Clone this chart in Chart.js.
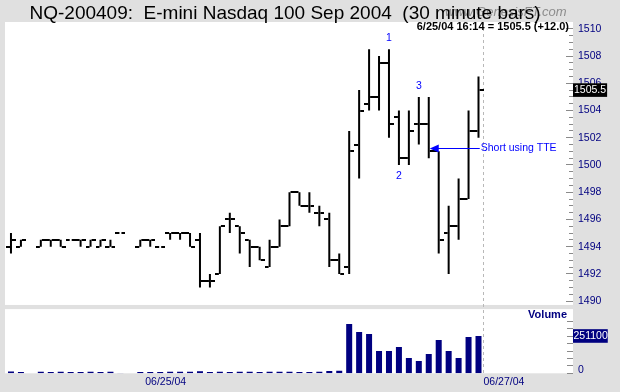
<!DOCTYPE html>
<html>
<head>
<meta charset="utf-8">
<script src="https://cdn.jsdelivr.net/npm/chart.js@4.4.1/dist/chart.umd.min.js"></script>
<style>
  html, body { margin: 0; padding: 0; background: #e0e0e0; }
  canvas { display: block; }
</style>
</head>
<body>
<canvas id="c" width="620" height="392"></canvas>
<script>
// ---------------- data ----------------
const categories = ['16:30','17:00','17:30','18:00','18:30','19:00','19:30','20:00','20:30','21:00',
  '21:30','22:00','22:30','23:00','23:30','00:00','00:30','01:00','01:30','02:00',
  '02:30','03:00','03:30','04:00','04:30','05:00','05:30','06:00','06:30','07:00',
  '07:30','08:00','08:30','09:00','09:30','10:00','10:30','11:00','11:30','12:00',
  '12:30','13:00','13:30','14:00','14:30','15:00','15:30','16:00','16:30','17:00',
  '17:30','18:00','18:30','19:00','19:30','20:00','20:30'];

const dateTicks = [{ index: 14, text: '06/25/04' }, { index: 48, text: '06/27/04' }];

const opens  = [1494.0,1494.0,null,1494.0,1494.5,1494.5,1494.5,1494.5,1494.0,1494.0,
                1494.0,1495.0,null,1494.0,1494.5,1494.0,1495.0,1495.0,1495.0,1494.5,
                1491.5,1492.0,1496.0,1495.5,1494.5,1494.0,1492.5,1494.0,1495.5,1498.0,
                1497.0,1496.5,1496.0,1493.0,1492.5,1501.5,1504.5,1505.0,1507.5,1503.5,
                1500.5,1503.0,1503.0,1501.0,1495.0,1495.5,1497.5,1502.5];
const highs  = [1495.0,1494.5,null,1494.5,1494.5,1494.5,1494.5,1494.5,1494.5,1494.5,
                1494.5,1495.0,null,1494.5,1494.5,1494.0,1495.0,1495.0,1495.0,1495.0,
                1492.0,1495.5,1496.5,1495.5,1494.5,1494.0,1494.5,1496.0,1498.0,1498.0,
                1498.0,1497.0,1496.5,1493.5,1502.5,1505.5,1508.5,1508.0,1508.5,1504.0,
                1504.0,1505.0,1505.0,1501.0,1497.0,1499.0,1504.0,1506.5];
const lows   = [1493.5,1494.0,null,1494.0,1494.0,1494.0,1494.5,1494.0,1494.0,1494.0,
                1494.0,1495.0,null,1494.0,1494.0,1494.0,1494.5,1494.5,1494.0,1491.0,
                1491.0,1492.0,1495.0,1493.5,1492.5,1493.0,1492.5,1494.0,1495.5,1497.0,
                1496.5,1495.5,1492.5,1492.0,1492.0,1499.0,1504.0,1504.0,1502.0,1500.0,
                1500.0,1501.5,1500.5,1493.5,1492.0,1494.5,1497.5,1502.0];
const closes = [1494.5,1494.5,null,1494.5,1494.5,1494.0,1494.5,1494.5,1494.5,1494.5,
                1494.0,1495.0,null,1494.5,1494.5,1494.0,1495.0,1495.0,1494.0,1491.5,
                1491.5,1495.5,1496.0,1495.0,1494.0,1493.0,1494.0,1495.5,1498.0,1497.0,
                1497.0,1496.5,1493.0,1492.0,1501.0,1504.0,1505.0,1507.5,1503.0,1500.5,
                1502.5,1503.0,1501.0,1494.5,1495.5,1497.5,1502.5,1505.5];
const volumes = [12000,9000,null,11000,9000,10000,8000,9000,10000,9000,
                 10000,2000,null,9000,9000,8000,10000,10000,10000,14000,
                 9000,10000,9000,10000,10000,9000,10000,10000,10000,9000,
                 8000,10000,15500,17000,332000,278000,264500,150500,150000,177500,
                 103000,83000,130000,224500,150000,103500,244500,251100];

const priceTicks  = [1490,1492,1494,1496,1498,1500,1502,1504,1506,1508,1510];
const volumeTicks = [0,50000,100000,150000,200000,250000,300000,350000];

const prevClose = 1493.5;
const lastStamp = '6/25/04 16:14';
const titleText = 'NQ-200409:  E-mini Nasdaq 100 Sep 2004  (30 minute bars)';
const watermark = 'www.GenesisFT.com';
const pointNotes = [
  { index: 38, text: '1', side: 'above' },
  { index: 39, text: '2', side: 'below' },
  { index: 41, text: '3', side: 'above' }
];
const arrowNote = { index: 42, price: 1501.25, text: 'Short using TTE' };

// ---------------- layout constants ----------------
const PRICE_MIN = 1484.7, PRICE_MAX = 1510.5;
const VOL_MAX = 2364000;
const PRICE_PANEL_FLOOR = 1489.72;   // where the price panel ends
const VOL_PANEL_CEIL = 432000;       // where the volume panel starts
const BG = '#e0e0e0';
const NAVY = '#000080';
const BLUE = '#0000ff';
const FONT = "'Liberation Sans', Arial, sans-serif";
Chart.defaults.font.family = FONT;

const lastIdx = closes.length - 1;
const lastClose = closes[lastIdx];
const lastVolume = volumes[lastIdx];
const ranges = lows.map((l, i) => (l == null ? null : [l, highs[i]]));

const minorPriceTicks = [];
for (let v = priceTicks[0]; v <= priceTicks[priceTicks.length - 1]; v += 0.5) minorPriceTicks.push(v);

function tickImage(side) {
  const c = document.createElement('canvas');
  c.width = 10; c.height = 2;
  const g = c.getContext('2d');
  g.fillStyle = '#000';
  if (side === 'left') g.fillRect(0, 0, 4, 2); else g.fillRect(6, 0, 4, 2);
  return c;
}
const openImg = tickImage('left');
const closeImg = tickImage('right');

const setTicks = (vals) => (s) => { s.ticks = vals.map(v => ({ value: v })); };
const width = (w) => (s) => { s.width = w; };
const OVERLAY_AXES = ['yvMinor', 'yLast', 'yvLast'];

const panelPlugin = {
  id: 'panels',
  afterLayout(chart) {
    // zero-width overlay axes: let their labels extend to the canvas edge
    OVERLAY_AXES.forEach(id => { const s = chart.scales[id]; if (s) s.right = chart.width; });
  },
  beforeDraw(chart) {
    const { ctx, chartArea: ca } = chart;
    const yP = chart.scales.y, yV = chart.scales.yv;
    ctx.save();
    ctx.fillStyle = BG;
    ctx.fillRect(0, 0, chart.width, chart.height);
    ctx.fillStyle = '#ffffff';
    const pb = yP.getPixelForValue(PRICE_PANEL_FLOOR);
    const vt = yV.getPixelForValue(VOL_PANEL_CEIL);
    ctx.fillRect(ca.left - 1, ca.top, ca.right - ca.left + 1, pb - ca.top);
    ctx.fillRect(ca.left - 1, vt, ca.right - ca.left + 1, ca.bottom - vt);
    ctx.restore();
  },
  beforeDatasetsDraw(chart) {
    const { ctx, chartArea: ca } = chart;
    const x = chart.scales.x;
    const xd = Math.round((x.getPixelForValue(lastIdx) + x.getPixelForValue(lastIdx + 1)) / 2) + 0.5;
    ctx.save();
    ctx.strokeStyle = '#b8b8b8';
    ctx.lineWidth = 1;
    ctx.setLineDash([3, 3]);
    ctx.beginPath();
    ctx.moveTo(xd, ca.top);
    ctx.lineTo(xd, ca.bottom);
    ctx.stroke();
    ctx.restore();
  },
  afterDraw(chart) {
    const { ctx } = chart;
    const x = chart.scales.x, yP = chart.scales.y, yV = chart.scales.yv;
    ctx.save();
    // watermark + title
    ctx.textBaseline = 'alphabetic';
    ctx.textAlign = 'left';
    ctx.font = 'italic 13px ' + FONT;
    ctx.fillStyle = '#8c8c8c';
    ctx.fillText(watermark, 445, 16);
    ctx.font = '19px ' + FONT;
    ctx.fillStyle = '#000';
    ctx.fillText(titleText, 29.5, 18.5);
    // last value header
    const chg = lastClose - prevClose;
    const header = lastStamp + ' = ' + lastClose.toFixed(1) + ' (' + (chg >= 0 ? '+' : '') + chg.toFixed(1) + ')';
    ctx.font = 'bold 11px ' + FONT;
    ctx.textAlign = 'right';
    ctx.fillText(header, 569, 30);
    // wave notes
    ctx.font = '10.5px ' + FONT;
    ctx.fillStyle = BLUE;
    ctx.textAlign = 'center';
    ctx.textBaseline = 'middle';
    pointNotes.forEach(n => {
      const px = x.getPixelForValue(n.index);
      const py = n.side === 'above' ? yP.getPixelForValue(highs[n.index]) - 11
                                     : yP.getPixelForValue(lows[n.index]) + 11;
      ctx.fillText(n.text, px, py);
    });
    // arrow
    const tipX = x.getPixelForValue(arrowNote.index) + 1;
    const ay = Math.round(yP.getPixelForValue(arrowNote.price)) + 0.5;
    ctx.strokeStyle = BLUE;
    ctx.lineWidth = 1;
    ctx.beginPath();
    ctx.moveTo(tipX + 6, ay);
    ctx.lineTo(tipX + 50, ay);
    ctx.stroke();
    ctx.beginPath();
    ctx.moveTo(tipX, ay);
    ctx.lineTo(tipX + 9, ay - 4);
    ctx.lineTo(tipX + 9, ay + 4);
    ctx.closePath();
    ctx.fill();
    ctx.textAlign = 'left';
    ctx.fillText(arrowNote.text, tipX + 51, ay);
    // volume caption
    ctx.font = 'bold 11px ' + FONT;
    ctx.fillStyle = NAVY;
    ctx.textAlign = 'right';
    ctx.fillText('Volume', 567, yV.getPixelForValue(VOL_PANEL_CEIL) + 6);
    ctx.restore();
  }
};

const tickFont = { size: 10.5, family: FONT };

new Chart(document.getElementById('c'), {
  type: 'bar',
  data: {
    labels: categories,
    datasets: [
      { type: 'line', label: 'Open', data: opens, yAxisID: 'y', showLine: false,
        pointStyle: openImg, pointRadius: 5, pointHoverRadius: 5 },
      { type: 'line', label: 'Close', data: closes, yAxisID: 'y', showLine: false,
        pointStyle: closeImg, pointRadius: 5, pointHoverRadius: 5 },
      { type: 'bar', label: 'High-Low', data: ranges, yAxisID: 'y', barThickness: 2,
        backgroundColor: '#000', borderWidth: 0, grouped: false, inflateAmount: 0 },
      { type: 'bar', label: 'Volume', data: volumes, yAxisID: 'yv', barThickness: 6,
        backgroundColor: NAVY, borderWidth: 0, grouped: false, inflateAmount: 0 }
    ]
  },
  options: {
    responsive: false,
    devicePixelRatio: 1,
    animation: false,
    events: [],
    layout: { padding: { left: 3, right: 0, top: 22, bottom: 0 } },
    plugins: { legend: { display: false }, tooltip: { enabled: false }, title: { display: false } },
    scales: {
      x: {
        type: 'category', offset: true,
        grid: { display: false, drawTicks: false }, border: { display: false },
        ticks: {
          autoSkip: false, maxRotation: 0, minRotation: 0, align: 'start', labelOffset: -5,
          padding: 2.5, color: NAVY, font: tickFont,
          callback: (v, i) => { const d = dateTicks.find(t => t.index === i); return d ? d.text : ''; }
        },
        afterFit: (s) => { s.height = 18.7; }
      },
      yMinor: {
        type: 'linear', position: 'right', weight: 1, min: PRICE_MIN, max: PRICE_MAX,
        afterBuildTicks: setTicks(minorPriceTicks), afterFit: width(0),
        grid: { drawOnChartArea: false, tickLength: -4, tickColor: '#8a8a8a' },
        border: { display: false }, ticks: { display: false }
      },
      yvMinor: {
        type: 'linear', position: 'right', weight: 2, min: 0, max: VOL_MAX,
        afterBuildTicks: setTicks(volumeTicks), afterFit: width(0),
        grid: { drawOnChartArea: false, tickLength: -6, tickColor: '#8a8a8a' },
        border: { display: false },
        ticks: { padding: 11, color: NAVY, font: tickFont, labelOffset: -3,
                 callback: (v) => (v === 0 ? '0' : '') }
      },
      y: {
        type: 'linear', position: 'right', weight: 5, min: PRICE_MIN, max: PRICE_MAX, beginAtZero: false,
        afterBuildTicks: setTicks(priceTicks), afterFit: width(47),
        grid: { drawOnChartArea: false, tickLength: -7, tickColor: '#8a8a8a' },
        border: { display: false },
        ticks: { padding: 12, color: NAVY, font: tickFont, callback: (v) => String(v) }
      },
      yv: {
        type: 'linear', position: 'right', weight: 3, min: 0, max: VOL_MAX, beginAtZero: true,
        afterFit: width(0), display: true,
        grid: { display: false, drawTicks: false }, border: { display: false },
        ticks: { display: false }
      },
      yLast: {
        type: 'linear', position: 'right', weight: 4, min: PRICE_MIN, max: PRICE_MAX,
        afterBuildTicks: (s) => { s.ticks = [{ value: lastClose }]; }, afterFit: width(0),
        grid: { display: false, drawTicks: false }, border: { display: false },
        ticks: { z: 1, padding: 1, color: '#ffffff', font: tickFont, showLabelBackdrop: true,
                 backdropColor: '#000000', backdropPadding: { top: 0.5, bottom: 0.5, left: 1, right: 1 },
                 callback: (v) => v.toFixed(1) }
      },
      yvLast: {
        type: 'linear', position: 'right', weight: 4, min: 0, max: VOL_MAX,
        afterBuildTicks: (s) => { s.ticks = [{ value: lastVolume }]; }, afterFit: width(0),
        grid: { display: false, drawTicks: false }, border: { display: false },
        ticks: { z: 1, padding: 0.5, color: '#ffffff', font: tickFont, showLabelBackdrop: true,
                 backdropColor: NAVY, backdropPadding: { top: 0.5, bottom: 0.5, left: 0.5, right: 0 },
                 callback: (v) => String(v) }
      }
    }
  },
  plugins: [panelPlugin]
});
</script>
</body>
</html>
